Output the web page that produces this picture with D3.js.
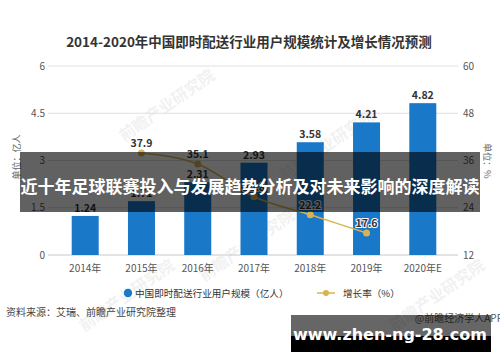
<!DOCTYPE html>
<html>
<head>
<meta charset="utf-8">
<script src="https://cdn.jsdelivr.net/npm/d3@7"></script>
<style>
  body { margin: 0; background: #fff; }
  svg { display: block; font-family: "Noto Sans CJK SC", "Noto Sans", sans-serif; }
</style>
</head>
<body>
<div id="chart"></div>
<script>
/* DATA */
const years = ["2014年", "2015年", "2016年", "2017年", "2018年", "2019年", "2020年E"];
const users = [1.24, 1.71, 2.31, 2.93, 3.58, 4.21, 4.82];
const growth = [null, 37.9, 35.1, 26.8, 22.2, 17.6, null];
const leftTicks = [0, 1.5, 3, 4.5, 6];
const rightTicks = [12, 24, 36, 48, 60];

const width = 500;
const height = 362;
const blue = "#1a78c9";
const gold = "#d8b450";

const svg = d3.select("#chart").append("svg")
  .attr("width", width)
  .attr("height", height);

/* SCALES */
const x = d3.scaleBand()
  .domain(years)
  .range([52, 456])
  .paddingInner(0.52)
  .paddingOuter(0.35);

const yL = d3.scaleLinear().domain([0, 6]).range([255, 66]);
const yR = d3.scaleLinear().domain([12, 60]).range([255, 66]);

// title
svg.append("text")
  .attr("x", 249).attr("y", 47)
  .attr("text-anchor", "middle")
  .attr("font-size", 13.5).attr("font-weight", "bold")
  .attr("fill", "#333")
  .text("2014-2020年中国即时配送行业用户规模统计及增长情况预测");

// faint watermarks
[[170, 110], [330, 150], [130, 300], [440, 300], [250, 250]].forEach(p => {
  svg.append("text")
    .attr("transform", `translate(${p[0]},${p[1]}) rotate(-35)`)
    .attr("text-anchor", "middle")
    .attr("font-size", 16).attr("font-weight", "bold")
    .attr("fill", "#000").attr("opacity", 0.05)
    .text("前瞻产业研究院");
});

// gridlines
svg.append("g").selectAll("line")
  .data(leftTicks.slice(1))
  .join("line")
  .attr("x1", 48).attr("x2", 458)
  .attr("y1", d => yL(d)).attr("y2", d => yL(d))
  .attr("stroke", "#e0e0e0");

svg.append("line")
  .attr("x1", 48).attr("x2", 458)
  .attr("y1", yL(0)).attr("y2", yL(0))
  .attr("stroke", "#c8c8c8");

// left axis labels
svg.append("g").selectAll("text")
  .data(leftTicks)
  .join("text")
  .attr("x", 45).attr("y", d => yL(d) + 3.5)
  .attr("text-anchor", "end")
  .attr("font-size", 10).attr("fill", "#555")
  .text(d => d);

// right axis labels
svg.append("g").selectAll("text")
  .data(rightTicks)
  .join("text")
  .attr("x", 463).attr("y", d => yR(d) + 3.5)
  .attr("font-size", 10).attr("fill", "#555")
  .text(d => d);

// axis titles
svg.append("text")
  .attr("transform", "translate(20,157) rotate(-90)")
  .attr("text-anchor", "middle")
  .attr("font-size", 9).attr("fill", "#666")
  .text("单位：亿人");

svg.append("text")
  .attr("transform", "translate(484,161) rotate(90)")
  .attr("text-anchor", "middle")
  .attr("font-size", 9).attr("fill", "#666")
  .text("单位：%");

// bars
svg.append("g").selectAll("rect")
  .data(users)
  .join("rect")
  .attr("x", (d, i) => x(years[i]))
  .attr("width", x.bandwidth())
  .attr("y", d => yL(d))
  .attr("height", d => yL(0) - yL(d))
  .attr("fill", blue);

svg.append("g").selectAll("text")
  .data(users)
  .join("text")
  .attr("x", (d, i) => x(years[i]) + x.bandwidth() / 2)
  .attr("y", d => yL(d) - 4)
  .attr("text-anchor", "middle")
  .attr("font-size", 10.5).attr("font-weight", "bold")
  .attr("fill", "#333")
  .text(d => d.toFixed(2));

// x labels
svg.append("g").selectAll("text")
  .data(years)
  .join("text")
  .attr("x", d => x(d) + x.bandwidth() / 2)
  .attr("y", 272)
  .attr("text-anchor", "middle")
  .attr("font-size", 10).attr("fill", "#555")
  .text(d => d);

// growth line
const pts = growth.map((g, i) => ({ year: years[i], g })).filter(d => d.g !== null);
const line = d3.line()
  .x(d => x(d.year) + x.bandwidth() / 2)
  .y(d => yR(d.g))
  .curve(d3.curveMonotoneX);

svg.append("path")
  .datum(pts)
  .attr("d", line)
  .attr("fill", "none")
  .attr("stroke", gold)
  .attr("stroke-width", 1.5);

svg.append("g").selectAll("circle")
  .data(pts)
  .join("circle")
  .attr("cx", d => x(d.year) + x.bandwidth() / 2)
  .attr("cy", d => yR(d.g))
  .attr("r", 3.5)
  .attr("fill", gold);

svg.append("g").selectAll("text")
  .data(pts)
  .join("text")
  .attr("x", d => x(d.year) + x.bandwidth() / 2)
  .attr("y", d => yR(d.g) - 6)
  .attr("text-anchor", "middle")
  .attr("font-size", 10.5).attr("font-weight", "bold")
  .attr("fill", "#333")
  .attr("stroke", "#fff").attr("stroke-width", 2)
  .attr("paint-order", "stroke")
  .text(d => d.g.toFixed(1));

// legend
svg.append("circle")
  .attr("cx", 128).attr("cy", 293).attr("r", 4.2)
  .attr("fill", blue);
svg.append("text")
  .attr("x", 135).attr("y", 296.5)
  .attr("font-size", 9.6).attr("fill", "#333")
  .text("中国即时配送行业用户规模（亿人）");

svg.append("line")
  .attr("x1", 317).attr("x2", 335).attr("y1", 293).attr("y2", 293)
  .attr("stroke", gold).attr("stroke-width", 1.5);
svg.append("circle")
  .attr("cx", 326).attr("cy", 293).attr("r", 3)
  .attr("fill", gold);
svg.append("text")
  .attr("x", 343).attr("y", 296.5)
  .attr("font-size", 9.6).attr("fill", "#333")
  .text("增长率（%）");

// source
svg.append("text")
  .attr("x", 6).attr("y", 316)
  .attr("font-size", 10).attr("fill", "#444")
  .text("资料来源：艾瑞、前瞻产业研究院整理");

svg.append("text")
  .attr("x", 503).attr("y", 322)
  .attr("text-anchor", "end")
  .attr("font-size", 10).attr("fill", "#555")
  .text("@前瞻经济学人APP");

// overlay banner
svg.append("rect")
  .attr("x", 20).attr("y", 152)
  .attr("width", 460).attr("height", 60)
  .attr("fill", "rgba(0,0,0,0.62)");
svg.append("text")
  .attr("x", 250).attr("y", 193)
  .attr("text-anchor", "middle")
  .attr("font-size", 17).attr("font-weight", "bold")
  .attr("fill", "#fff")
  .text("近十年足球联赛投入与发展趋势分析及对未来影响的深度解读");

// bottom url box
svg.append("rect")
  .attr("x", 291).attr("y", 315)
  .attr("width", 200).attr("height", 21)
  .attr("fill", "rgba(0,0,0,0.6)");
svg.append("rect")
  .attr("x", 291).attr("y", 336)
  .attr("width", 200).attr("height", 16)
  .attr("fill", "#000");
svg.append("text")
  .attr("x", 390).attr("y", 340)
  .attr("text-anchor", "middle")
  .attr("font-family", "DejaVu Sans, sans-serif")
  .attr("font-size", 16).attr("font-weight", "bold")
  .attr("fill", "#fff")
  .text("www.zhen-ng-28.com");
</script>
</body>
</html>
